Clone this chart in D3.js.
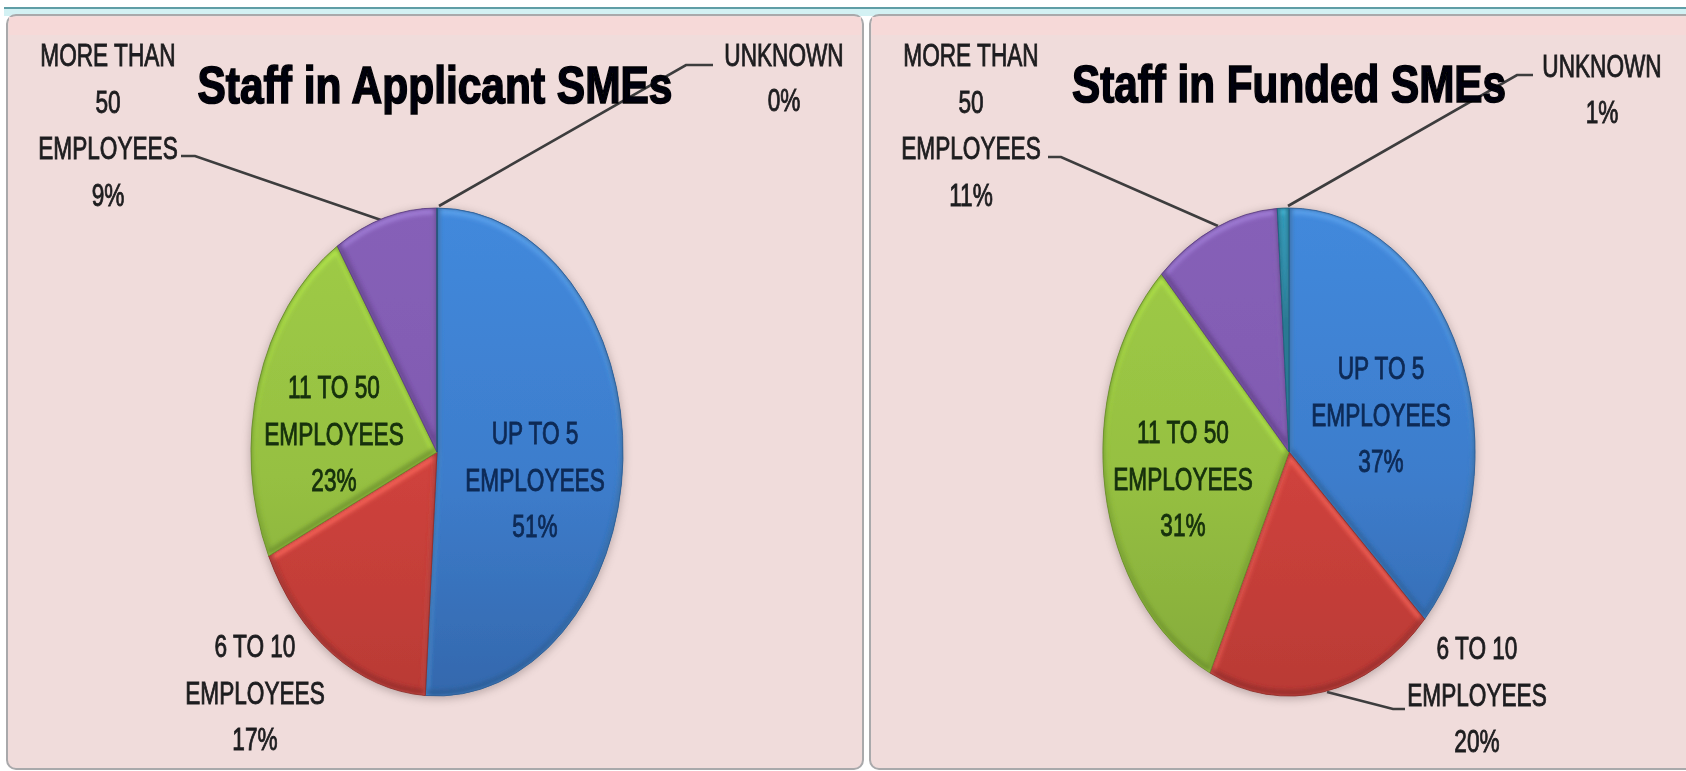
<!DOCTYPE html>
<html>
<head>
<meta charset="utf-8">
<script src="https://cdn.jsdelivr.net/npm/d3@7"></script>
<style>
html,body{margin:0;padding:0;background:#fff;overflow:hidden}
svg{display:block}
text{font-family:"Liberation Sans",Arial,sans-serif}
</style>
</head>
<body>
<svg id="chart" width="1686" height="771"></svg>
<script>
// ---- data ----
const categories = ["UP TO 5 EMPLOYEES", "6 TO 10 EMPLOYEES", "11 TO 50 EMPLOYEES", "MORE THAN 50 EMPLOYEES", "UNKNOWN"];
const categoryLines = [["UP TO 5", "EMPLOYEES"], ["6 TO 10", "EMPLOYEES"], ["11 TO 50", "EMPLOYEES"], ["MORE THAN", "50", "EMPLOYEES"], ["UNKNOWN"]];
const applicantValues = [51, 17, 23, 9, 0];
const fundedValues = [37, 20, 31, 11, 1];
const applicantTitle = "Staff in Applicant SMEs";
const fundedTitle = "Staff in Funded SMEs";

// ---- styles ----
const baseTop = ["#4289dc", "#d9463f", "#9fcc46", "#8660b8", "#2f9dbd"];
const baseBottom = ["#3468ad", "#b93a35", "#84aa3a", "#7650a0", "#24799a"];
const rimLight = ["#5ba2ec", "#f9665c", "#b6ea4e", "#a27fd8", "#4fc0de"];
const rimDark = ["#2c5a8f", "#8a2c28", "#64872a", "#58397c", "#1a5a73"];
const insideInk = ["#0e2a56", "#3a1010", "#16300c", "#221133", "#111"];

// ---- layout of the two panels ----
const panels = [
  { title: applicantTitle, values: applicantValues, x: 7, w: 856, cx: 437, cy: 452, rx: 186, ry: 244,
    titleX: 435, titleY: 103, titleW: 475,
    labels: [
      { x: 535, y: 433 }, { x: 255, y: 646 }, { x: 334, y: 387 }, { x: 108, y: 55 }, { x: 784, y: 55, gap: 45 }
    ],
    leaders: { 3: [[181,156],[195,156],[381,220]], 4: [[713,65],[686,65],[439,206]] }
  },
  { title: fundedTitle, values: fundedValues, x: 870, w: 830, cx: 1289, cy: 452, rx: 186, ry: 244,
    titleX: 1289, titleY: 102, titleW: 434,
    labels: [
      { x: 1381, y: 368 }, { x: 1477, y: 648 }, { x: 1183, y: 432 }, { x: 971, y: 55 }, { x: 1602, y: 66, gap: 46 }
    ],
    leaders: { 1: [[1405,709],[1393,709],[1327,692]], 3: [[1048,157],[1061,157],[1218,226]], 4: [[1533,75],[1517,75],[1288,206]] }
  }
];

const svg = d3.select("#chart");
const defs = svg.append("defs");

const soft = defs.append("filter").attr("id", "soft").attr("x", 0).attr("y", 0).attr("width", 1).attr("height", 1);
soft.append("feGaussianBlur").attr("stdDeviation", 0.7);

const blur2 = defs.append("filter").attr("id", "bevelBlur").attr("x", "-20%").attr("y", "-20%").attr("width", "140%").attr("height", "140%");
blur2.append("feGaussianBlur").attr("stdDeviation", 2);

const shadow = defs.append("filter").attr("id", "pieShadow").attr("x", "-10%").attr("y", "-10%").attr("width", "120%").attr("height", "120%");
shadow.append("feGaussianBlur").attr("stdDeviation", 4);

baseTop.forEach((c, i) => {
  const g = defs.append("linearGradient").attr("id", "fill" + i)
    .attr("gradientUnits", "userSpaceOnUse").attr("x1", 0).attr("y1", -244).attr("x2", 0).attr("y2", 244);
  g.append("stop").attr("offset", 0).attr("stop-color", c);
  g.append("stop").attr("offset", 0.55).attr("stop-color", d3.interpolateRgb(c, baseBottom[i])(0.35));
  g.append("stop").attr("offset", 1).attr("stop-color", baseBottom[i]);
});

const root = svg.append("g").attr("filter", "url(#soft)");
root.append("rect").attr("width", 1686).attr("height", 771).attr("fill", "#ffffff");

// window chrome strip along the top
root.append("rect").attr("x", 4).attr("y", 7).attr("width", 1682).attr("height", 2).attr("fill", "#5f9ea6");
root.append("rect").attr("x", 4).attr("y", 9).attr("width", 1682).attr("height", 7).attr("fill", "#d3f1f3");

const pie = d3.pie().sort(null).value(d => d).startAngle(0).endAngle(2 * Math.PI);
const arc = d3.arc().innerRadius(0).outerRadius(1);

panels.forEach((p, pi) => {
  const panel = root.append("g");
  panel.append("rect").attr("x", p.x).attr("y", 15).attr("width", p.w).attr("height", 754)
    .attr("rx", 9).attr("fill", "#f0dcdb").attr("stroke", "#a9a9ab").attr("stroke-width", 2);
  panel.append("rect").attr("x", p.x + 2).attr("y", 17).attr("width", p.w - 4).attr("height", 18).attr("fill", "#f6d9d8");

  // leader lines
  Object.values(p.leaders).forEach(pts => {
    panel.append("path").attr("d", d3.line()(pts)).attr("fill", "none")
      .attr("stroke", "#3c3c3e").attr("stroke-width", 2.6);
  });

  // soft shadow under the pie
  panel.append("ellipse").attr("cx", p.cx).attr("cy", p.cy + 2).attr("rx", p.rx + 1).attr("ry", p.ry + 1)
    .attr("fill", "#6b5a5a").attr("opacity", 0.4).attr("filter", "url(#pieShadow)");

  const pieG = panel.append("g").attr("transform", `translate(${p.cx},${p.cy})`);
  const arcs = pie(p.values);

  arcs.forEach((d, i) => {
    const id = `clip${pi}_${i}`;
    const dPath = arc(d);
    defs.append("clipPath").attr("id", id).append("path")
      .attr("d", dPath).attr("transform", `scale(${p.rx},${p.ry})`);

    const s = pieG.append("g").attr("class", "slice");
    const clipped = s.append("g").attr("clip-path", `url(#${id})`);
    clipped.append("rect").attr("x", -p.rx - 2).attr("y", -p.ry - 2).attr("width", 2 * p.rx + 4).attr("height", 2 * p.ry + 4)
      .attr("fill", `url(#fill${i})`);
    // light bevel on edges facing up, dark bevel on edges facing down;
    // the blur sits on a wrapper so it is measured in page pixels
    clipped.append("g").attr("filter", "url(#bevelBlur)").append("path").attr("d", dPath)
      .attr("transform", `translate(0,3) scale(${p.rx},${p.ry})`)
      .attr("fill", "none").attr("stroke", rimLight[i]).attr("stroke-width", 6)
      .attr("vector-effect", "non-scaling-stroke");
    clipped.append("g").attr("filter", "url(#bevelBlur)").append("path").attr("d", dPath)
      .attr("transform", `translate(0,-3) scale(${p.rx},${p.ry})`)
      .attr("fill", "none").attr("stroke", rimDark[i]).attr("stroke-width", 6).attr("opacity", 0.7)
      .attr("vector-effect", "non-scaling-stroke");
    // thin outline, so an empty slice still shows as a hairline
    s.append("path").attr("d", dPath).attr("transform", `scale(${p.rx},${p.ry})`)
      .attr("fill", "none").attr("stroke", d3.color(rimDark[i]).copy({ opacity: 0.8 }))
      .attr("stroke-width", 1).attr("vector-effect", "non-scaling-stroke");
  });

  // labels: category lines, then the percentage
  const textW = 0.73;
  arcs.forEach((d, i) => {
    const pos = p.labels[i];
    const gap = pos.gap || 46.5;
    const lines = categoryLines[i].concat([d.value + "%"]);
    const inside = i === 0 || i === 2;
    const ink = inside ? insideInk[i] : "#1f1e20";
    const g = panel.append("g").attr("font-size", 31).attr("text-anchor", "middle")
      .attr("fill", ink).attr("stroke", ink).attr("stroke-width", 0.9);
    lines.forEach((t, k) => {
      g.append("text").text(t)
        .attr("transform", `translate(${pos.x},${pos.y + k * gap + 11}) scale(${textW},1)`);
    });
  });

  // title on top of the leader lines
  const title = panel.append("text").text(p.title)
    .attr("text-anchor", "middle").attr("font-weight", 700).attr("font-size", 52)
    .attr("fill", "#050507").attr("stroke", "#050507").attr("stroke-width", 1.7);
  const natural = title.node().getComputedTextLength();
  title.attr("transform", `translate(${p.titleX},${p.titleY}) scale(${p.titleW / natural},1)`);
});
</script>
</body>
</html>
